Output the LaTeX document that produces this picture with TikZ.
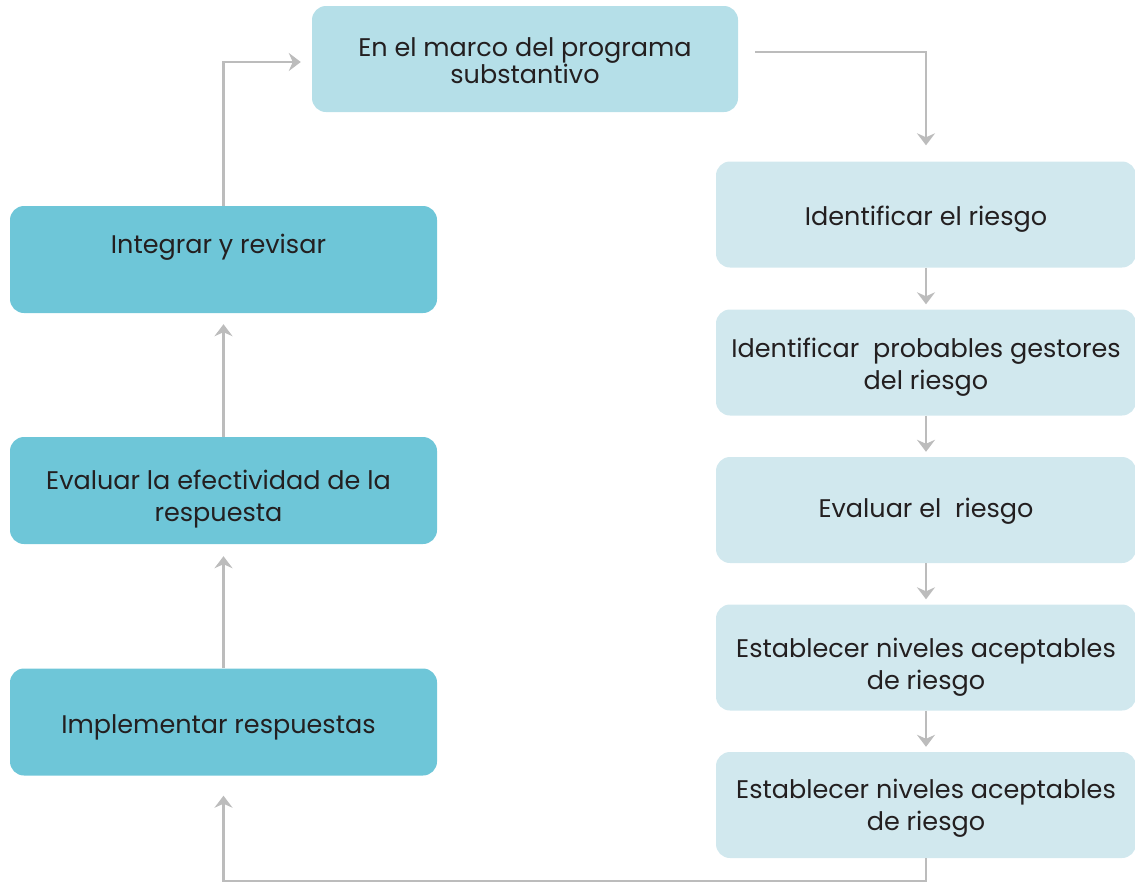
\documentclass[tikz,border=0pt]{standalone}
\usepackage{fontspec}
\setmainfont{Poppins}
\usetikzlibrary{arrows.meta}
\definecolor{topc}{HTML}{B5DFE8}
\definecolor{leftc}{HTML}{6EC6D8}
\definecolor{rightc}{HTML}{D1E8EE}
\definecolor{arrc}{HTML}{BCBCBC}
\definecolor{txtc}{HTML}{231F20}
\tikzset{
  box/.style={rectangle, rounded corners=14pt, draw=none, inner sep=0pt},
  topbox/.style={box, fill=topc, minimum width=426pt, minimum height=106pt},
  leftbox/.style={box, fill=leftc, minimum width=427pt, minimum height=107pt},
  rightbox/.style={box, fill=rightc, minimum width=420pt, minimum height=106pt},
  txt/.style={align=center, text=txtc, font=\fontsize{25.5}{32}\selectfont, inner sep=0pt},
  arr/.style={draw=arrc, line width=2.4pt, -{Stealth[length=12pt, width=18pt, inset=4pt]}},
}
\begin{document}
\begin{tikzpicture}[x=1pt, y=-1pt]
\useasboundingbox (0,0) rectangle (1135,884);
\clip (0,0) rectangle (1135,884);
% boxes
\node[topbox] (top) at (525,59) {};
\node[rightbox] (r1) at (926,214.5) {};
\node[rightbox] (r2) at (926,362.5) {};
\node[rightbox] (r3) at (926,510) {};
\node[rightbox] (r4) at (926,657.5) {};
\node[rightbox] (r5) at (926,805) {};
\node[leftbox] (l1) at (223.5,259.5) {};
\node[leftbox] (l2) at (223.5,490.5) {};
\node[leftbox] (l3) at (223.5,722) {};
% texts
\node[txt, font=\fontsize{25.5}{24.5}\selectfont] (ttop) at ([yshift=-2pt]top.center) {En el marco del programa\\substantivo};
\node[txt] (tr1) at ([yshift=-5pt]r1.center) {Identificar el riesgo};
\node[txt] (tr2) at ([yshift=-5pt]r2.center) {Identificar~ probables gestores\\del riesgo};
\node[txt] (tr3) at ([yshift=-1pt]r3.center) {Evaluar el~ riesgo};
\node[txt] (tr4) at ([yshift=-10pt]r4.center) {Establecer niveles aceptables\\de riesgo};
\node[txt] (tr5) at ([yshift=-3pt]r5.center) {Establecer niveles aceptables\\de riesgo};
\node[txt] (tl1) at ([shift={(-5pt,12pt)}]l1.center) {Integrar y revisar};
\node[txt] (tl2) at ([shift={(-5pt,-9pt)}]l2.center) {Evaluar la efectividad de la\\respuesta};
\node[txt] (tl3) at ([shift={(-5pt,-5pt)}]l3.center) {Implementar respuestas};
% connectors
\coordinate (bot) at (0,881);
\draw[arr] ([shift={(17pt,7pt)}]top.east) -| ([yshift=16pt]r1.north);
\draw[arr] (r1.south) -- ([yshift=5pt]r2.north);
\draw[arr] (r2.south) -- ([yshift=5pt]r3.north);
\draw[arr] (r3.south) -- ([yshift=5pt]r4.north);
\draw[arr] (r4.south) -- ([yshift=5pt]r5.north);
\draw[arr] (r5.south) -- (r5.south |- bot) -| ([yshift=-20pt]l3.south);
\draw[arr] (l3.north) -- ([yshift=-12pt]l2.south);
\draw[arr] (l2.north) -- ([yshift=-11pt]l1.south);
\draw[arr] (l1.north) |- ([shift={(-11pt,-3pt)}]top.west);
\end{tikzpicture}
\end{document}
